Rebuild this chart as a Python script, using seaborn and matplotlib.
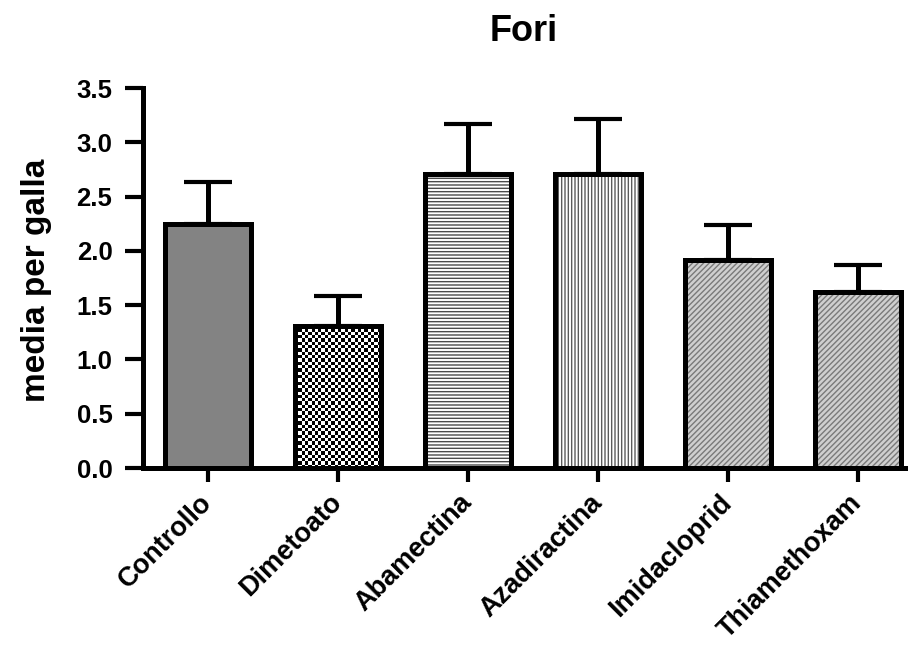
import numpy as np
import pandas as pd
import matplotlib
matplotlib.use("Agg")
import matplotlib.pyplot as plt
from matplotlib.patches import Rectangle
import seaborn as sns

# Treatments and their mean number of holes per gall, with the standard error
categories = ["Controllo", "Dimetoato", "Abamectina", "Azadiractina", "Imidacloprid", "Thiamethoxam"]
means = [2.25, 1.31, 2.71, 2.71, 1.92, 1.62]
sem = [0.38, 0.27, 0.46, 0.50, 0.32, 0.25]
yticks = [0.0, 0.5, 1.0, 1.5, 2.0, 2.5, 3.0, 3.5]

sns.set_theme(style="white")
plt.rcParams["font.family"] = ["Liberation Sans", "DejaVu Sans"]
plt.rcParams["font.weight"] = "bold"
plt.rcParams["hatch.linewidth"] = 1.0

df = pd.DataFrame({"trattamento": categories, "media": means})

W, H = 916, 645
fig = plt.figure(figsize=(W / 100, H / 100), dpi=100)
ax = fig.add_axes([143 / W, 1 - 468 / H, (905 - 143) / W, (468 - 88) / H])

# fill styles per treatment: face colour, hatch, hatch colour
faces = ["#838383", "#ffffff", "#ffffff", "#ffffff", "#cfcfcf", "#cfcfcf"]
hatches = [None, None, "-----", "|||||", "//////", "//////"]
hatch_cols = ["#838383", "#ffffff", "#4a4a4a", "#5a5a5a", "#7a7a7a", "#7a7a7a"]

# error bars (upper side only) drawn underneath the bars
ax.errorbar(range(len(categories)), means, yerr=[np.zeros(len(sem)), sem],
            fmt="none", ecolor="black", elinewidth=3.6, capsize=17.5,
            capthick=3.0, zorder=1)

sns.barplot(data=df, x="trattamento", y="media", hue="trattamento",
            palette=faces, width=0.66, legend=False, ax=ax, zorder=2,
            saturation=1)

ax.set_xlim(-0.5, 5.36)
ax.set_ylim(0, 3.5)
fig.canvas.draw()

bars = list(ax.patches)
for i, p in enumerate(bars):
    p.set_linewidth(0)
    p.set_edgecolor(hatch_cols[i])
    if hatches[i]:
        p.set_hatch(hatches[i])
    x0, y0 = p.get_x(), p.get_y()
    w, h = p.get_width(), p.get_height()
    if i == 1:
        # coarse black/white checkerboard texture
        (px0, py0), (px1, py1) = ax.transData.transform([(x0, y0), (x0 + w, y0 + h)])
        cell = 3.3
        nx = max(1, int(round((px1 - px0) / cell)))
        ny = max(1, int(round((py1 - py0) / cell)))
        board = np.indices((ny, nx)).sum(axis=0) % 2
        im = ax.imshow(board, cmap="gray", extent=(x0, x0 + w, y0, y0 + h),
                       interpolation="nearest", aspect="auto", zorder=2.5,
                       vmin=0, vmax=1)
        im.set_clip_path(p)
    ax.add_patch(Rectangle((x0, y0), w, h, fill=False, edgecolor="black",
                           linewidth=3.6, zorder=3, joinstyle="miter"))

ax.set_xlim(-0.5, 5.36)
ax.set_ylim(0, 3.5)
ax.set_yticks(yticks)
ax.set_yticklabels([f"{v:.1f}" for v in yticks])

for s in ["top", "right"]:
    ax.spines[s].set_visible(False)
for s in ["left", "bottom"]:
    ax.spines[s].set_linewidth(3.6)
    ax.spines[s].set_color("black")
    ax.spines[s].set_zorder(4)

ax.tick_params(axis="y", which="major", left=True, length=13, width=3.0,
               direction="out", pad=9, labelsize=18.5, colors="black")
ax.tick_params(axis="x", which="major", bottom=True, length=10, width=3.0,
               direction="out", pad=12, labelsize=19.5, colors="black")
for lab in ax.get_xticklabels():
    lab.set_rotation(45)
    lab.set_ha("right")
    lab.set_va("center")
    lab.set_rotation_mode("anchor")
    lab.set_fontweight("bold")
for lab in ax.get_yticklabels():
    lab.set_fontweight("bold")

ax.set_xlabel("")
ax.set_ylabel("media per galla", fontsize=24, fontweight="bold", color="black")
ax.yaxis.set_label_coords(-0.12, 0.495)
ax.set_title("Fori", fontsize=26, fontweight="bold", pad=34, color="black")
ax.grid(False)

fig.savefig("out.png", dpi=100, facecolor="white")
